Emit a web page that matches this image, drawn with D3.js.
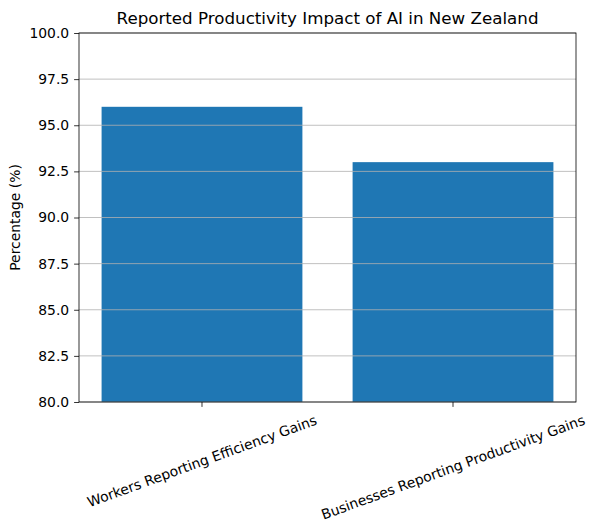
<!DOCTYPE html>
<html>
<head>
<meta charset="utf-8">
<script src="https://cdn.jsdelivr.net/npm/d3@7"></script>
<style>
  body { margin: 0; background: #fff; }
  text { font-family: "DejaVu Sans", sans-serif; fill: #000; }
</style>
</head>
<body>
<svg id="chart" width="595" height="530"></svg>
<script>
// data
const categories = ["Workers Reporting Efficiency Gains", "Businesses Reporting Productivity Gains"];
const values = [96, 93];
const yTicks = [80, 82.5, 85, 87.5, 90, 92.5, 95, 97.5, 100];

const W = 595, H = 530;
const m = { left: 79, right: 19, top: 33, bottom: 128 };
const iw = W - m.left - m.right, ih = H - m.top - m.bottom;

const svg = d3.select("#chart");
const g = svg.append("g").attr("transform", `translate(${m.left},${m.top})`);

// matplotlib-like bar positions: index 0..n-1, width 0.8, 5% margins
const x = d3.scaleLinear().domain([-0.49, categories.length - 1 + 0.49]).range([0, iw]);
const y = d3.scaleLinear().domain([80, 100]).range([ih, 0]);
const bw = 0.8;

// bars
g.selectAll(".bar")
  .data(values)
  .join("rect")
  .attr("class", "bar")
  .attr("x", (d, i) => x(i - bw / 2))
  .attr("width", (d, i) => x(i + bw / 2) - x(i - bw / 2))
  .attr("y", d => y(d))
  .attr("height", d => ih - y(d))
  .attr("fill", "#1f77b4");

// horizontal grid, drawn above bars
g.selectAll(".grid")
  .data(yTicks)
  .join("line")
  .attr("class", "grid")
  .attr("x1", 0).attr("x2", iw)
  .attr("y1", d => y(d)).attr("y2", d => y(d))
  .attr("stroke", "#b0b0b0")
  .attr("stroke-width", 0.8);

// y axis
const yAxis = g.append("g")
  .call(d3.axisLeft(y).tickValues(yTicks).tickFormat(d3.format(".1f")).tickSize(4.9).tickPadding(4.9));
yAxis.select(".domain").remove();
yAxis.selectAll("line").attr("stroke", "#000").attr("stroke-width", 0.8);
yAxis.selectAll("text").style("font-size", "13.9px").style("font-family", "DejaVu Sans, sans-serif");

// x ticks
g.selectAll(".xtick")
  .data(categories)
  .join("line")
  .attr("x1", (d, i) => x(i)).attr("x2", (d, i) => x(i))
  .attr("y1", ih).attr("y2", ih + 4.9)
  .attr("stroke", "#000").attr("stroke-width", 0.8);

// rotated x labels, bbox top-centred under tick like matplotlib
const rot = 20, rad = rot * Math.PI / 180, fs = 13.9;
g.selectAll(".xlabel")
  .data(categories)
  .join("text")
  .attr("class", "xlabel")
  .style("font-size", fs + "px")
  .attr("text-anchor", "middle")
  .attr("dominant-baseline", "central")
  .text(d => d)
  .each(function (d, i) {
    const w = this.getComputedTextLength();
    const h = fs * 1.17;
    const bh = w * Math.sin(rad) + h * Math.cos(rad);
    const cx = x(i), cy = ih + 9.8 + bh / 2;
    d3.select(this).attr("x", cx).attr("y", cy)
      .attr("transform", `rotate(${-rot},${cx},${cy})`);
  });

// frame
g.append("rect")
  .attr("width", iw).attr("height", ih)
  .attr("fill", "none").attr("stroke", "#000").attr("stroke-width", 0.8);

// title & y label
svg.append("text")
  .attr("x", m.left + iw / 2).attr("y", m.top - 9)
  .attr("text-anchor", "middle")
  .style("font-size", "16.7px")
  .text("Reported Productivity Impact of AI in New Zealand");

svg.append("text")
  .attr("transform", `translate(20,${m.top + ih / 2}) rotate(-90)`)
  .attr("text-anchor", "middle")
  .style("font-size", "13.9px")
  .text("Percentage (%)");
</script>
</body>
</html>
